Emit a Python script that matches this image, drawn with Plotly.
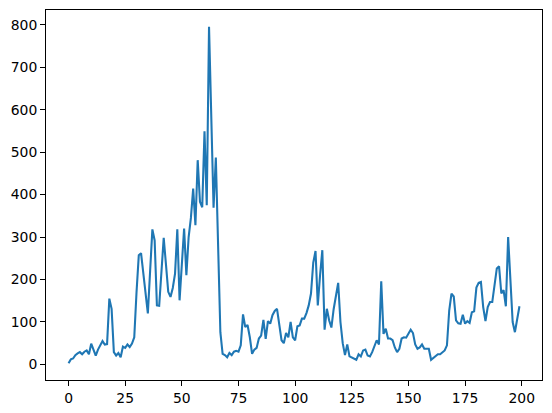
import plotly.graph_objects as go

values = [
    3, 12, 14, 22, 26, 29, 24, 30, 33, 24,
    49, 37, 21, 35, 45, 55, 47, 48, 155, 131,
    29, 21, 27, 17, 42, 39, 47, 41, 49, 64,
    170, 257, 262, 215, 170, 120, 220, 318, 292, 139,
    138, 230, 298, 235, 171, 159, 180, 214, 318, 151,
    250, 320, 210, 300, 345, 414, 328, 481, 383, 370,
    549, 375, 795, 580, 369, 487, 257, 76, 25, 22,
    17, 27, 22, 30, 32, 30, 45, 118, 88, 93,
    64, 25, 35, 39, 61, 68, 105, 60, 102, 96,
    116, 126, 131, 96, 57, 50, 74, 64, 100, 64,
    57, 90, 92, 108, 108, 121, 139, 167, 240, 267,
    139, 210, 269, 82, 131, 104, 87, 130, 160, 192,
    100, 50, 22, 47, 19, 16, 13, 11, 24, 19,
    33, 35, 21, 19, 29, 41, 57, 47, 196, 72,
    84, 61, 61, 57, 40, 29, 37, 61, 64, 63,
    72, 82, 74, 47, 37, 40, 47, 37, 37, 37,
    11, 16, 21, 24, 24, 29, 33, 45, 127, 167,
    160, 104, 97, 96, 117, 96, 102, 98, 123, 125,
    181, 192, 194, 135, 102, 135, 147, 147, 182, 226,
    231, 167, 175, 137, 300, 190, 100, 76, 105, 137,
]
x_index = list(range(len(values)))
x_ticks = [0, 25, 50, 75, 100, 125, 150, 175, 200]
y_ticks = [0, 100, 200, 300, 400, 500, 600, 700, 800]

n = len(values) - 1
xpad = 0.05 * n
ymin, ymax = min(values), max(values)
ypad = 0.05 * (ymax - ymin)

fig = go.Figure()
fig.add_trace(go.Scatter(
    x=x_index, y=values, mode="lines",
    line=dict(color="#1f77b4", width=2.08),
    hoverinfo="skip", showlegend=False,
))

axis_common = dict(
    showgrid=False, zeroline=False, automargin=False,
    showline=True, linecolor="black", linewidth=1.1, mirror=True,
    ticks="outside", ticklen=4.9, tickwidth=1.1, tickcolor="black",
    tickfont=dict(family="DejaVu Sans", size=13.9, color="black"),
)
fig.update_xaxes(range=[-xpad, n + xpad], tickmode="array", tickvals=x_ticks,
                 ticktext=[str(t) for t in x_ticks], **axis_common)
fig.update_yaxes(range=[ymin - ypad, ymax + ypad], tickmode="array", tickvals=y_ticks,
                 ticktext=[str(t) for t in y_ticks], **axis_common)

fig.update_layout(
    width=552, height=413,
    margin=dict(l=46, r=10, t=10, b=33, pad=0),
    paper_bgcolor="white", plot_bgcolor="white",
    font=dict(family="DejaVu Sans", size=13.9, color="black"),
)
fig.write_html(
    "out.html",
    config={"displayModeBar": False},
    post_script="document.body.style.margin='0px';document.body.style.overflow='hidden';",
)
